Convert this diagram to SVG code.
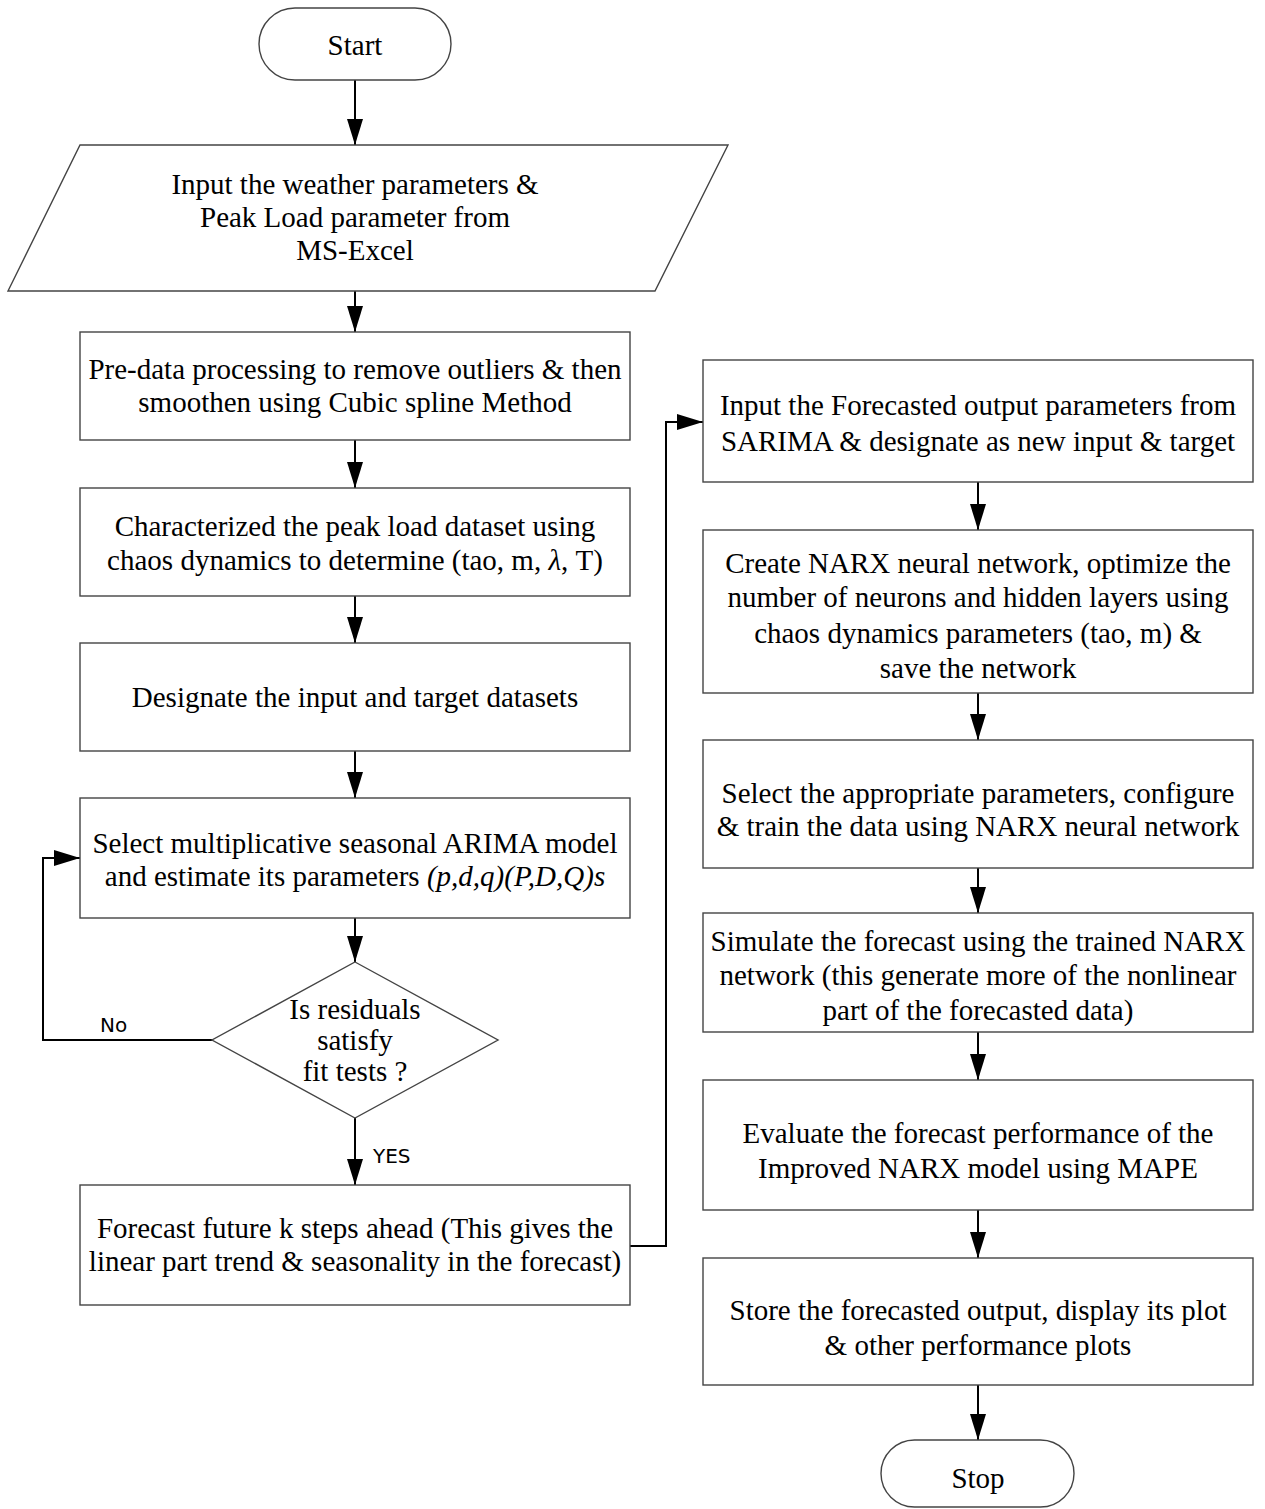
<svg xmlns="http://www.w3.org/2000/svg" width="1265" height="1509" viewBox="0 0 1265 1509">
  <defs>
    <marker id="arrow" markerWidth="26" markerHeight="16" refX="26" refY="8" viewBox="0 0 26 16" markerUnits="userSpaceOnUse" orient="auto">
      <path d="M0,0 L26,8 L0,16 Z" fill="#000"/>
    </marker>
    <style>
      .shape { fill: #fff; stroke: #444; stroke-width: 1.4; }
      .label { font-family: "Liberation Serif", "Times New Roman", serif; font-size: 29px; fill: #000; text-anchor: middle; }
      .tag { font-family: "DejaVu Sans", "Liberation Sans", sans-serif; font-size: 20px; fill: #000; }
      .wire { fill: none; stroke: #000; stroke-width: 2; }
      .it { font-style: italic; }
    </style>
  </defs>
  <rect width="1265" height="1509" fill="#fff"/>

  <!-- connectors -->
  <g id="connectors">
    <path class="wire" d="M355,80 V145" marker-end="url(#arrow)"/>
    <path class="wire" d="M355,291 V332" marker-end="url(#arrow)"/>
    <path class="wire" d="M355,440 V488" marker-end="url(#arrow)"/>
    <path class="wire" d="M355,596 V643" marker-end="url(#arrow)"/>
    <path class="wire" d="M355,751 V798" marker-end="url(#arrow)"/>
    <path class="wire" d="M355,918 V962" marker-end="url(#arrow)"/>
    <path class="wire" d="M212,1040 H43 V858 H80" marker-end="url(#arrow)"/>
    <path class="wire" d="M355,1118 V1185" marker-end="url(#arrow)"/>
    <path class="wire" d="M630,1246 H666 V422 H703" marker-end="url(#arrow)"/>
    <path class="wire" d="M978,482 V530" marker-end="url(#arrow)"/>
    <path class="wire" d="M978,693 V740" marker-end="url(#arrow)"/>
    <path class="wire" d="M978,868 V913" marker-end="url(#arrow)"/>
    <path class="wire" d="M978,1032 V1080" marker-end="url(#arrow)"/>
    <path class="wire" d="M978,1210 V1258" marker-end="url(#arrow)"/>
    <path class="wire" d="M978,1385 V1440" marker-end="url(#arrow)"/>
    <text class="tag" x="100" y="1032">No</text>
    <text class="tag" x="373" y="1163">YES</text>
  </g>

  <!-- left column -->
  <g id="start">
    <rect class="shape" x="259" y="8" width="192" height="72" rx="36" ry="36"/>
    <text class="label" x="355" y="55">Start</text>
  </g>
  <g id="input-data">
    <polygon class="shape" points="80,145 728,145 655,291 8,291"/>
    <text class="label" x="355" y="194">Input the weather parameters &amp;</text>
    <text class="label" x="355" y="227">Peak Load parameter from</text>
    <text class="label" x="355" y="260">MS-Excel</text>
  </g>
  <g id="preprocess">
    <rect class="shape" x="80" y="332" width="550" height="108"/>
    <text class="label" x="355" y="379">Pre-data processing to remove outliers &amp; then</text>
    <text class="label" x="355" y="412">smoothen using Cubic spline Method</text>
  </g>
  <g id="characterize">
    <rect class="shape" x="80" y="488" width="550" height="108"/>
    <text class="label" x="355" y="536">Characterized the peak load dataset using</text>
    <text class="label" x="355" y="570">chaos dynamics to determine (tao, m, <tspan class="it">λ</tspan>, T)</text>
  </g>
  <g id="designate">
    <rect class="shape" x="80" y="643" width="550" height="108"/>
    <text class="label" x="355" y="707">Designate the input and target datasets</text>
  </g>
  <g id="sarima">
    <rect class="shape" x="80" y="798" width="550" height="120"/>
    <text class="label" x="355" y="853">Select multiplicative seasonal ARIMA model</text>
    <text class="label" x="355" y="886">and estimate its parameters <tspan class="it">(p,d,q)(P,D,Q)s</tspan></text>
  </g>
  <g id="fit-test">
    <polygon class="shape" points="355,962 498,1040 355,1118 212,1040"/>
    <text class="label" x="355" y="1019">Is residuals</text>
    <text class="label" x="355" y="1050">satisfy</text>
    <text class="label" x="355" y="1081">fit tests ?</text>
  </g>
  <g id="forecast">
    <rect class="shape" x="80" y="1185" width="550" height="120"/>
    <text class="label" x="355" y="1238">Forecast future k steps ahead (This gives the</text>
    <text class="label" x="355" y="1271">linear part trend &amp; seasonality in the forecast)</text>
  </g>

  <!-- right column -->
  <g id="narx-input">
    <rect class="shape" x="703" y="360" width="550" height="122"/>
    <text class="label" x="978" y="415">Input the Forecasted output parameters from</text>
    <text class="label" x="978" y="451">SARIMA &amp; designate as new input &amp; target</text>
  </g>
  <g id="narx-create">
    <rect class="shape" x="703" y="530" width="550" height="163"/>
    <text class="label" x="978" y="573">Create NARX neural network, optimize the</text>
    <text class="label" x="978" y="607">number of neurons and hidden layers using</text>
    <text class="label" x="978" y="643">chaos dynamics parameters (tao, m)  &amp;</text>
    <text class="label" x="978" y="678">save the network</text>
  </g>
  <g id="narx-train">
    <rect class="shape" x="703" y="740" width="550" height="128"/>
    <text class="label" x="978" y="803">Select the appropriate parameters, configure</text>
    <text class="label" x="978" y="836">&amp; train the data using NARX neural network</text>
  </g>
  <g id="narx-simulate">
    <rect class="shape" x="703" y="913" width="550" height="119"/>
    <text class="label" x="978" y="951">Simulate the forecast using the trained NARX</text>
    <text class="label" x="978" y="985">network (this generate more of the nonlinear</text>
    <text class="label" x="978" y="1020">part of the forecasted data)</text>
  </g>
  <g id="evaluate">
    <rect class="shape" x="703" y="1080" width="550" height="130"/>
    <text class="label" x="978" y="1143">Evaluate the forecast performance of the</text>
    <text class="label" x="978" y="1178">Improved NARX model using MAPE</text>
  </g>
  <g id="store">
    <rect class="shape" x="703" y="1258" width="550" height="127"/>
    <text class="label" x="978" y="1320">Store the forecasted output, display its plot</text>
    <text class="label" x="978" y="1355">&amp; other performance plots</text>
  </g>
  <g id="stop">
    <rect class="shape" x="881" y="1440" width="193" height="67" rx="33.5" ry="33.5"/>
    <text class="label" x="978" y="1488">Stop</text>
  </g>
</svg>
